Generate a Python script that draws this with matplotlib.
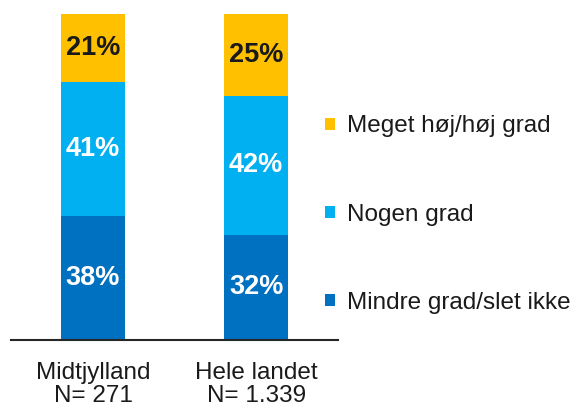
import numpy as np
import matplotlib.pyplot as plt

plt.rcParams['font.family'] = ['Liberation Sans', 'DejaVu Sans']

# Data
categories = ['Midtjylland\nN= 271', 'Hele landet\nN= 1.339']
series = ['Mindre grad/slet ikke', 'Nogen grad', 'Meget høj/høj grad']
low = [38, 32]
mid = [41, 42]
high = [21, 25]

colors = ['#0070C0', '#00B0F0', '#FFC000']
label_colors = ['white', 'white', '#1a1a1a']

fig = plt.figure(figsize=(5.78, 4.08), dpi=100)
ax = fig.add_axes([0.019, 0.1667, 0.566, 0.799])

# bars are drawn as 100% stacks (rounded labels don't always sum to 100)
totals = np.array(low) + np.array(mid) + np.array(high)

x = np.arange(len(categories))
bottom = np.zeros(len(categories))
handles = []
for vals, name, col, lcol in zip([low, mid, high], series, colors,
                                 label_colors):
    h = np.array(vals) / totals * 100
    bars = ax.bar(x, h, width=0.393, bottom=bottom, color=col,
                  label=name, linewidth=0)
    handles.append(bars)
    for xi, b, hi, v in zip(x, bottom, h, vals):
        ax.text(xi, b + hi / 2, f'{v}%', ha='center', va='center',
                fontsize=19.5, fontweight='bold', color=lcol)
    bottom += h

ax.set_xlim(-0.503, 1.503)
ax.set_ylim(0, 100)
ax.set_xticks(x)
ax.set_xticklabels(categories, fontsize=17.5, color='#1a1a1a',
                   linespacing=1.02)
ax.tick_params(axis='x', length=0, pad=16)
ax.set_yticks([])
for s in ['top', 'left', 'right']:
    ax.spines[s].set_visible(False)
ax.spines['bottom'].set_color('#262626')
ax.spines['bottom'].set_linewidth(1.5)

fig.legend(handles[::-1], series[::-1], loc='center left',
           bbox_to_anchor=(0.562, 0.474), frameon=False, fontsize=17.5,
           handlelength=0.4, handleheight=0.4, handletextpad=0.5,
           labelspacing=2.72, borderpad=0, borderaxespad=0,
           labelcolor='#1a1a1a')

fig.savefig('out.png', dpi=100)
